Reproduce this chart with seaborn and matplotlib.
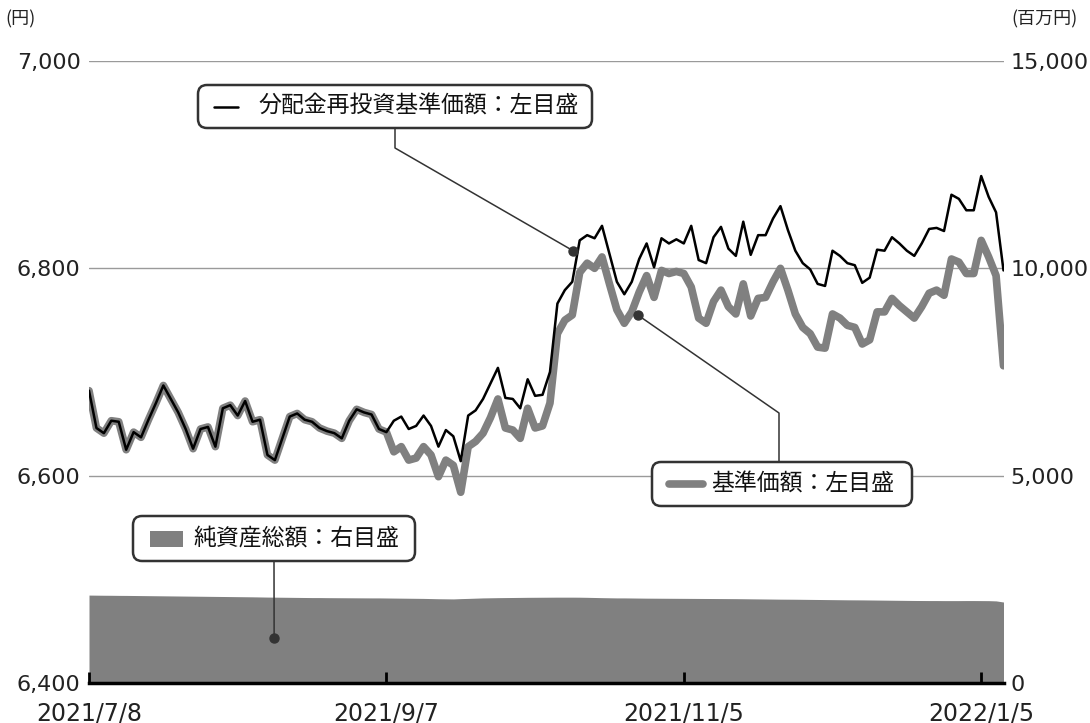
import pandas as pd
import matplotlib
matplotlib.use('Agg')
import matplotlib.pyplot as plt
import matplotlib.transforms as mtransforms
from matplotlib.patches import FancyBboxPatch, Rectangle
from matplotlib.lines import Line2D
import seaborn as sns


# Data, one value per business day

tick_pos = [0, 40, 80, 120]
tick_labels = ['2021/7/8', '2021/9/7', '2021/11/5', '2022/1/5']

left_ticks = [6400, 6600, 6800, 7000]
left_labels = ['6,400', '6,600', '6,800', '7,000']
right_ticks = [0, 5000, 10000, 15000]
right_labels = ['0', '5,000', '10,000', '15,000']

# 分配金再投資基準価額 (円)
reinvested_nav = [
    6682, 6646, 6641, 6653, 6652, 6625, 6642, 6637, 6654, 6670,
    6687, 6674, 6661, 6645, 6626, 6645, 6647, 6628, 6665, 6668,
    6658, 6672, 6652, 6654, 6620, 6615, 6636, 6657, 6660, 6654,
    6652, 6646, 6643, 6641, 6636, 6653, 6664, 6661, 6659, 6645,
    6642, 6653, 6657, 6645, 6648, 6658, 6648, 6628, 6644, 6638,
    6614, 6658, 6663, 6674, 6689, 6704, 6675, 6674, 6665, 6693,
    6677, 6678, 6700, 6766, 6779, 6787, 6827, 6832, 6829, 6841,
    6814, 6787, 6775, 6787, 6809, 6824, 6801, 6829, 6824, 6828,
    6824, 6841, 6808, 6805, 6830, 6840, 6819, 6812, 6845, 6813,
    6832, 6832, 6848, 6860, 6837, 6817, 6805, 6799, 6785, 6783,
    6817, 6812, 6805, 6803, 6786, 6791, 6818, 6817, 6830, 6824,
    6817, 6812, 6824, 6838, 6839, 6836, 6871, 6867, 6856, 6856,
    6889, 6869, 6854, 6798,
]

# 基準価額 (円): same as above until the first distribution
nav = reinvested_nav[:41] + [
    6623, 6628, 6615, 6617, 6628, 6620, 6599, 6615, 6610,
    6584, 6628, 6633, 6641, 6656, 6674, 6646, 6644, 6636, 6665,
    6646, 6648, 6670, 6737, 6750, 6755, 6796, 6805, 6800, 6811,
    6785, 6760, 6747, 6758, 6777, 6793, 6772, 6798, 6795, 6797,
    6795, 6782, 6752, 6747, 6768, 6779, 6763, 6756, 6785, 6754,
    6771, 6772, 6787, 6800, 6779, 6756, 6743, 6737, 6724, 6723,
    6756, 6752, 6745, 6743, 6727, 6731, 6758, 6758, 6771, 6764,
    6758, 6752, 6763, 6776, 6779, 6774, 6809, 6806, 6795, 6795,
    6827, 6811, 6793, 6706,
]

# 純資産総額 (百万円)
net_assets = [
    2120, 2118, 2116, 2115, 2113, 2112, 2110, 2108, 2106, 2104,
    2102, 2100, 2098, 2096, 2094, 2092, 2090, 2088, 2086, 2084,
    2082, 2080, 2078, 2075, 2072, 2070, 2068, 2066, 2064, 2062,
    2060, 2060, 2058, 2057, 2056, 2055, 2054, 2053, 2052, 2052,
    2050, 2048, 2046, 2044, 2042, 2040, 2036, 2032, 2030, 2028,
    2035, 2040, 2046, 2052, 2055, 2058, 2060, 2062, 2064, 2066,
    2067, 2068, 2069, 2070, 2070, 2070, 2069, 2066, 2062, 2058,
    2055, 2052, 2052, 2050, 2048, 2046, 2045, 2044, 2043, 2042,
    2041, 2040, 2039, 2038, 2037, 2036, 2035, 2034, 2032, 2030,
    2028, 2026, 2024, 2022, 2021, 2020, 2018, 2016, 2014, 2012,
    2010, 2008, 2006, 2005, 2004, 2002, 2000, 1998, 1996, 1994,
    1992, 1990, 1989, 1988, 1988, 1987, 1987, 1987, 1988, 1988,
    1987, 1986, 1980, 1953,
]

df = pd.DataFrame({
    'day': range(len(nav)),
    'reinvested': reinvested_nav,
    'nav': nav,
    'assets': net_assets,
})

# Style

sns.set_theme(style='white')
plt.rcParams['font.family'] = ['Noto Sans CJK JP', 'DejaVu Sans']

GRAY = '#808080'
DARK = '#333333'
W, H = 1090, 723

fig = plt.figure(figsize=(W / 100, H / 100), dpi=100)
ax = fig.add_axes([89 / W, 1 - 683 / H, (1003.5 - 89) / W, (683 - 61) / H])
ax2 = ax.twinx()
ax.set_zorder(ax2.get_zorder() + 1)
ax.patch.set_visible(False)

# Net assets area on the right scale
ax2.fill_between(df['day'], df['assets'], color=GRAY, lw=0)
ax2.set_ylim(0, 15000)

# Grid lines
for v in left_ticks[1:]:
    ax.axhline(v, color='#9a9a9a', lw=1, zorder=0)

# NAV lines on the left scale
sns.lineplot(data=df, x='day', y='nav', ax=ax, color=GRAY, linewidth=5.5,
             solid_joinstyle='round', solid_capstyle='round', zorder=2)
sns.lineplot(data=df, x='day', y='reinvested', ax=ax, color='black',
             linewidth=1.8, zorder=3)

ax.set_xlim(0, len(nav) - 1)
ax.set_ylim(6400, 7000)
ax.set_xlabel('')
ax.set_ylabel('')

ax.set_xticks(tick_pos)
ax.set_xticklabels(tick_labels, family='DejaVu Sans')
ax.set_yticks(left_ticks)
ax.set_yticklabels(left_labels, family='DejaVu Sans')
ax2.set_yticks(right_ticks)
ax2.set_yticklabels(right_labels, family='DejaVu Sans')

ax.tick_params(axis='x', bottom=True, direction='in', length=8, width=2, color='black',
               pad=13, labelsize=17, labelcolor='#222222')
ax.tick_params(axis='y', left=False, length=0, pad=6, labelsize=16, labelcolor='#222222')
ax2.tick_params(axis='y', right=False, length=0, pad=5, labelsize=16, labelcolor='#222222')

for s in ['top', 'left', 'right']:
    ax.spines[s].set_visible(False)
for s in ax2.spines.values():
    s.set_visible(False)
ax.spines['bottom'].set_color('black')
ax.spines['bottom'].set_linewidth(2.5)

# Unit labels
fig.text(5 / W, 1 - 19 / H, '(円)', fontsize=13, va='center', ha='left', color='#222222')
fig.text(1078 / W, 1 - 19 / H, '(百万円)', fontsize=13, va='center', ha='right', color='#222222')

# Callouts, drawn in pixel coordinates from the top-left corner
px = mtransforms.Affine2D().scale(1 / W, -1 / H).translate(0, 1) + fig.transFigure


def to_px(axis, x, y):
    return px.inverted().transform(axis.transData.transform((x, y)))


def callout_box(x0, y0, x1, y1):
    fig.add_artist(FancyBboxPatch((x0, y0), x1 - x0, y1 - y0,
                                  boxstyle='round,pad=0,rounding_size=9',
                                  transform=px, fc='white', ec=DARK, lw=1.8, zorder=10))


def leader(points, dot):
    xs = [p[0] for p in points] + [dot[0]]
    ys = [p[1] for p in points] + [dot[1]]
    fig.add_artist(Line2D(xs, ys, transform=px, color=DARK, lw=1.1, zorder=9))
    fig.add_artist(Line2D([dot[0]], [dot[1]], transform=px, marker='o', ms=6.5,
                          color=DARK, lw=0, zorder=9))


def label(x, y, s):
    fig.text(x / W, 1 - y / H, s, fontsize=16.5, va='center', ha='left',
             color='#111111', zorder=11)


# 分配金再投資基準価額
dot1 = to_px(ax, 65.1, 6817)
leader([(395, 128), (395, 148)], dot1)
callout_box(198, 85, 592, 128)
fig.add_artist(Line2D([214, 238], [106.5, 106.5], transform=px, color='black', lw=1.8, zorder=11))
label(258, 106.5, '分配金再投資基準価額：左目盛')

# 基準価額
dot2 = to_px(ax, 73.8, 6755)
leader([(779, 462), (779, 413)], dot2)
callout_box(652, 462, 912, 506)
fig.add_artist(Line2D([669, 703], [484, 484], transform=px, color=GRAY, lw=5.5,
                      solid_capstyle='round', zorder=11))
label(711, 484, '基準価額：左目盛')

# 純資産総額
dot3 = to_px(ax2, 24.9, 1085)
leader([(274, 561)], dot3)
callout_box(133, 516, 415, 561)
fig.add_artist(Rectangle((150, 531), 33, 16, transform=px, fc=GRAY, lw=0, zorder=11))
label(193, 538.5, '純資産総額：右目盛')

fig.savefig('out.png', dpi=100)
